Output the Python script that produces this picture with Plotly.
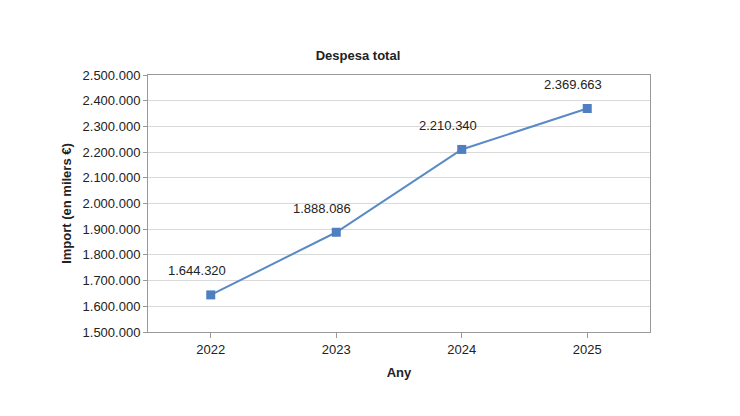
import plotly.graph_objects as go

years = ["2022", "2023", "2024", "2025"]
values = [1644320, 1888086, 2210340, 2369663]
labels = [f"{v:,}".replace(",", ".") for v in values]

fig = go.Figure(go.Scatter(
    x=years, y=values, mode="lines+markers",
    line=dict(color="#5A8AC6", width=2),
    marker=dict(symbol="square", size=9, color="#4F7FC0"),
    hoverinfo="skip"))

for i, (y, t) in enumerate(zip(values, labels)):
    fig.add_annotation(x=i, y=y, xref="x", yref="y", text=t, showarrow=False,
                       xshift=-14, yshift=24, font=dict(size=13, color="#222"))

fig.update_layout(
    width=740, height=416, paper_bgcolor="white", plot_bgcolor="white",
    margin=dict(l=140, r=98, t=67, b=92),
    separators=",.",
    font=dict(family="Liberation Sans, Arial", size=13, color="#222"),
    title=dict(text="<b>Despesa total</b>", x=0.473, xanchor="center", y=0.887, yanchor="middle",
               font=dict(size=13)),
    showlegend=False,
    xaxis=dict(type="category", range=[-0.5, 3.5], showgrid=False,
               showline=True, linecolor="#999", mirror=True,
               ticks="outside", ticklen=5, tickcolor="#999",
               title=dict(text="<b>Any</b>", font=dict(size=13), standoff=12)),
    yaxis=dict(range=[1500000, 2500000], dtick=100000, tickformat=",d",
               showgrid=True, gridcolor="#D9D9D9", zeroline=False,
               showline=True, linecolor="#999", mirror=True,
               ticks="outside", ticklen=4, tickcolor="#999",
               title=dict(text="<b>Import (en milers €)</b>", font=dict(size=13), standoff=8)),
)
fig.write_html("out.html")
